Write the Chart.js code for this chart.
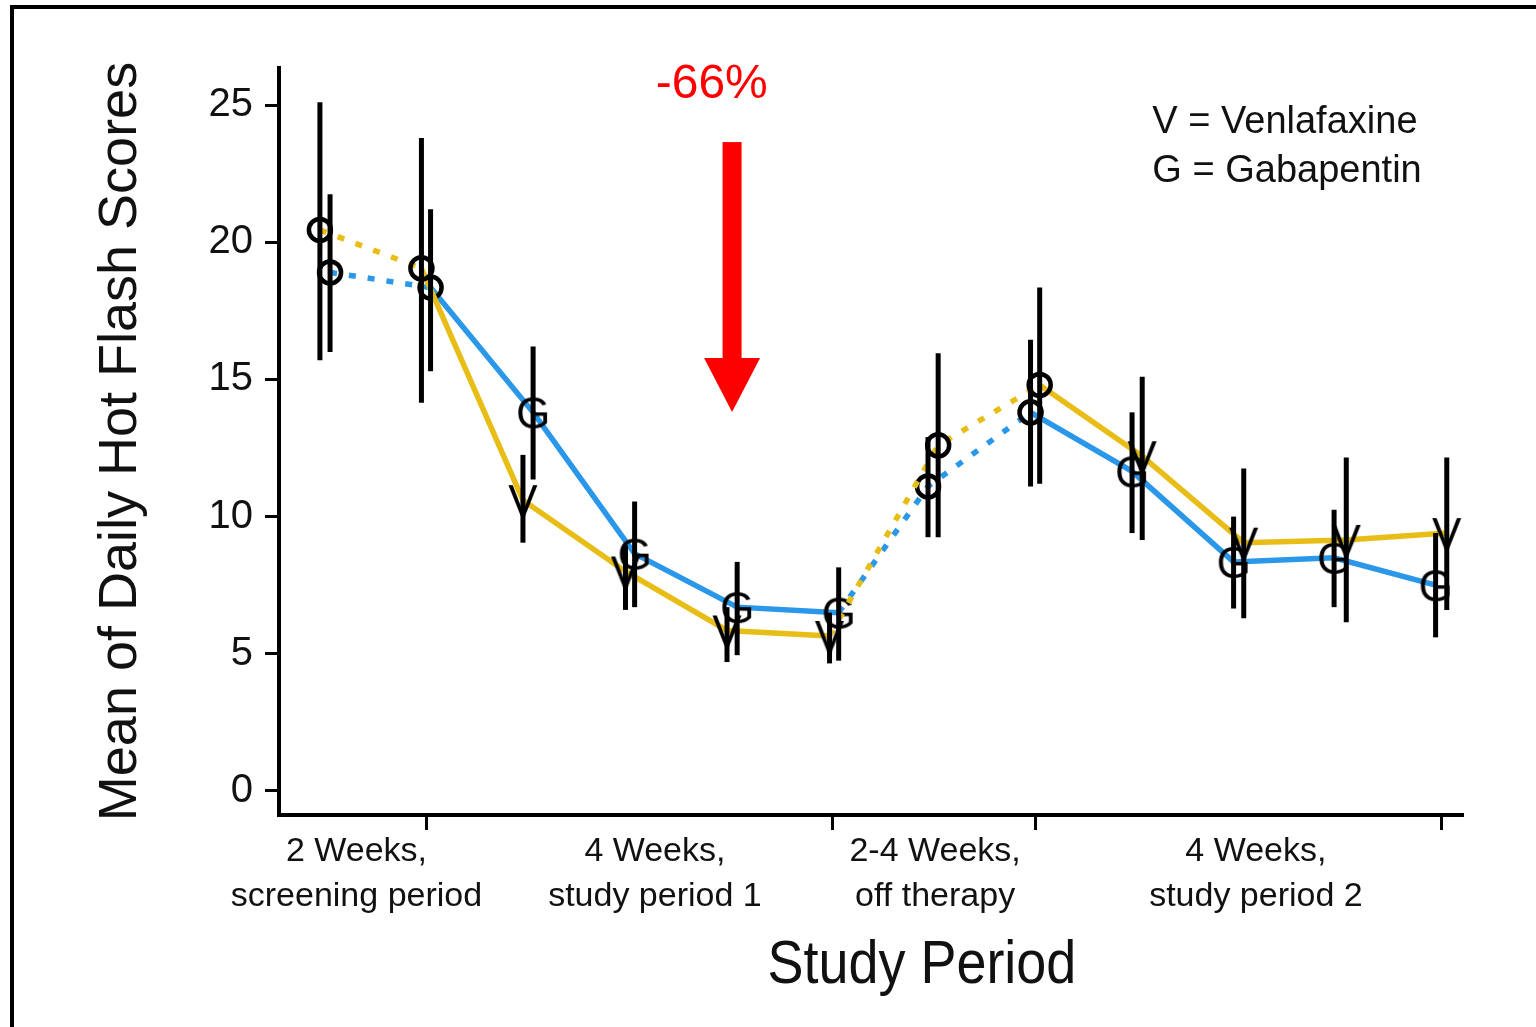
<!DOCTYPE html>
<html>
<head>
<meta charset="utf-8">
<script src="https://cdn.jsdelivr.net/npm/chart.js@4.4.1/dist/chart.umd.min.js"></script>
<style>
  html, body { margin: 0; padding: 0; background: #fff; }
  body { width: 1536px; height: 1027px; overflow: hidden; position: relative; }
  .frame { position: absolute; left: 10px; top: 5px; right: -10px; bottom: -10px;
           border-top: 4px solid #000; border-left: 4px solid #000; }
  #chart { position: absolute; left: 0; top: 0; }
</style>
</head>
<body>
<div class="frame"></div>
<canvas id="chart" width="1536" height="1027"></canvas>
<script>
// week of each measurement; the two arms are nudged apart so the bars stay readable
const vWeeks = [0.95, 1.95, 2.95, 3.96, 4.96, 5.97, 7.04, 8.04, 9.05, 10.05, 11.06, 12.05];
const gWeeks = [1.05, 2.04, 3.05, 4.05, 5.06, 6.06, 6.94, 7.95, 8.95, 9.95, 10.94, 11.94];

// venlafaxine arm
const vMean = [20.45, 19.05, 10.6, 8.0, 5.85, 5.65, 12.6, 14.8, 12.2, 9.05, 9.15, 9.4];
const vLow  = [15.7, 14.15, 9.05, 6.6, 4.7, 4.65, 9.25, 11.2, 9.15, 6.3, 6.15, 6.6];
const vHigh = [25.1, 23.8, 12.25, 8.95, 6.7, 6.5, 15.95, 18.35, 15.1, 11.75, 12.15, 12.15];

// gabapentin arm
const gMean = [18.9, 18.35, 13.8, 8.65, 6.7, 6.5, 11.1, 13.8, 11.65, 8.35, 8.5, 7.5];
const gLow  = [16.0, 15.3, 11.35, 6.7, 4.95, 4.75, 9.25, 11.1, 9.4, 6.65, 6.7, 5.6];
const gHigh = [21.75, 21.2, 16.2, 10.55, 8.35, 8.15, 12.9, 16.45, 13.8, 10.0, 10.25, 9.4];

// off-drug weeks get a plain circle, on-drug weeks get the letter
const offDrug = [true, true, false, false, false, false, true, true, false, false, false, false];
const dottedFrom = [0, 5, 6];

const periodEdges = [2, 6, 8, 12];
const periodCenters = [1.31, 4.25, 7.01, 10.17];
const periodLabels = [
  ['2 Weeks,', 'screening period'],
  ['4 Weeks,', 'study period 1'],
  ['2-4 Weeks,', 'off therapy'],
  ['4 Weeks,', 'study period 2']
];
const yTicks = [0, 5, 10, 15, 20, 25];
const legendLines = ['V = Venlafaxine', 'G = Gabapentin'];
const changeLabel = '-66%';

const YEL = '#E8BE16', BLU = '#2A97E8';
const sans = "'Liberation Sans', Arial, Helvetica, sans-serif";

function letterMark(ch) {
  const c = document.createElement('canvas');
  c.width = 40; c.height = 40;
  const g = c.getContext('2d');
  g.font = `44px ${sans}`;
  g.fillStyle = '#000';
  g.textAlign = 'center';
  g.textBaseline = 'alphabetic';
  g.fillText(ch, 20, 36);
  return c;
}
const vMark = letterMark('V'), gMark = letterMark('G');

const errorBars = {
  id: 'errorBars',
  afterDatasetsDraw(chart) {
    const { ctx, scales: { x, y } } = chart;
    ctx.save();
    ctx.strokeStyle = '#000';
    ctx.lineWidth = 5;
    chart.data.datasets.forEach(ds => {
      ds.data.forEach((p, i) => {
        const px = x.getPixelForValue(p.x);
        ctx.beginPath();
        ctx.moveTo(px, y.getPixelForValue(ds.low[i]));
        ctx.lineTo(px, y.getPixelForValue(ds.high[i]));
        ctx.stroke();
      });
    });
    ctx.restore();
  }
};

const notes = {
  id: 'notes',
  afterDraw(chart) {
    const { ctx, chartArea, scales: { x, y } } = chart;
    ctx.save();
    // red arrow over study period 1
    const ax = x.getPixelForValue(5.01);
    const top = y.getPixelForValue(23.65), base = y.getPixelForValue(15.78), tip = y.getPixelForValue(13.81);
    ctx.fillStyle = '#FF0000';
    ctx.fillRect(ax - 9.5, top, 19, base - top + 1);
    ctx.beginPath();
    ctx.moveTo(ax - 28, base);
    ctx.lineTo(ax + 28, base);
    ctx.lineTo(ax, tip);
    ctx.closePath();
    ctx.fill();
    ctx.font = `48px ${sans}`;
    ctx.textAlign = 'center';
    ctx.textBaseline = 'alphabetic';
    ctx.fillText(changeLabel, x.getPixelForValue(4.81), y.getPixelForValue(25.25));

    // key
    ctx.fillStyle = '#111';
    ctx.font = `38px ${sans}`;
    ctx.textAlign = 'left';
    ctx.fillText(legendLines[0], x.getPixelForValue(9.15), y.getPixelForValue(23.98));
    ctx.fillText(legendLines[1], x.getPixelForValue(9.15), y.getPixelForValue(22.19));

    // x axis title, squeezed a little like the condensed face of the original
    ctx.font = `62px ${sans}`;
    ctx.textAlign = 'center';
    ctx.translate(x.getPixelForValue(6.88), chartArea.bottom + 168);
    ctx.scale(0.87, 1);
    ctx.fillText('Study Period', 0, 0);
    ctx.restore();
  }
};

function series(weeks, mean, low, high, color, mark) {
  return {
    data: weeks.map((w, i) => ({ x: w, y: mean[i] })),
    low, high,
    borderColor: color,
    borderWidth: 5.5,
    borderCapStyle: 'butt',
    tension: 0,
    fill: false,
    segment: { borderDash: c => dottedFrom.includes(c.p0DataIndex) ? [7, 12] : undefined },
    pointStyle: offDrug.map(o => o ? 'circle' : mark),
    pointRadius: 11,
    pointBorderWidth: 4.5,
    pointBorderColor: '#000',
    pointBackgroundColor: 'rgba(0,0,0,0)'
  };
}

new Chart(document.getElementById('chart'), {
  type: 'line',
  data: {
    datasets: [
      series(vWeeks, vMean, vLow, vHigh, YEL, vMark),
      series(gWeeks, gMean, gLow, gHigh, BLU, gMark)
    ]
  },
  options: {
    responsive: false,
    devicePixelRatio: 1,
    animation: false,
    events: [],
    layout: { padding: { left: 90, top: 68, right: 74, bottom: 0 } },
    plugins: { legend: { display: false }, tooltip: { enabled: false } },
    scales: {
      x: {
        type: 'linear',
        min: 0.547, max: 12.2,
        afterBuildTicks: s => {
          s.ticks = [...periodEdges, ...periodCenters].sort((a, b) => a - b).map(v => ({ value: v }));
        },
        afterFit: s => { s.height = 212; },
        border: { display: true, color: '#000', width: 4 },
        grid: {
          drawOnChartArea: false, drawTicks: true, tickLength: 15, lineWidth: 3,
          tickColor: c => (c.tick && periodEdges.includes(c.tick.value)) ? '#000' : 'rgba(0,0,0,0)'
        },
        ticks: {
          autoSkip: false, maxRotation: 0, minRotation: 0, padding: 0, color: '#111',
          font: { family: sans, size: 34, lineHeight: 1.3 },
          callback: v => { const k = periodCenters.indexOf(v); return k < 0 ? '' : periodLabels[k]; }
        }
      },
      y: {
        min: -0.875, max: 26.35,
        afterBuildTicks: s => { s.ticks = yTicks.map(v => ({ value: v })); },
        afterFit: s => { s.width = 189; },
        border: { display: true, color: '#000', width: 4 },
        grid: { drawOnChartArea: false, drawTicks: true, tickLength: 14, lineWidth: 3, color: '#000' },
        ticks: { padding: 12, color: '#111', font: { family: sans, size: 40 } },
        title: {
          display: true, text: 'Mean of Daily Hot Flash Scores', color: '#111',
          font: { family: sans, size: 54, lineHeight: 1 }, padding: { top: 4, bottom: 0 }
        }
      }
    }
  },
  plugins: [errorBars, notes]
});
</script>
</body>
</html>
